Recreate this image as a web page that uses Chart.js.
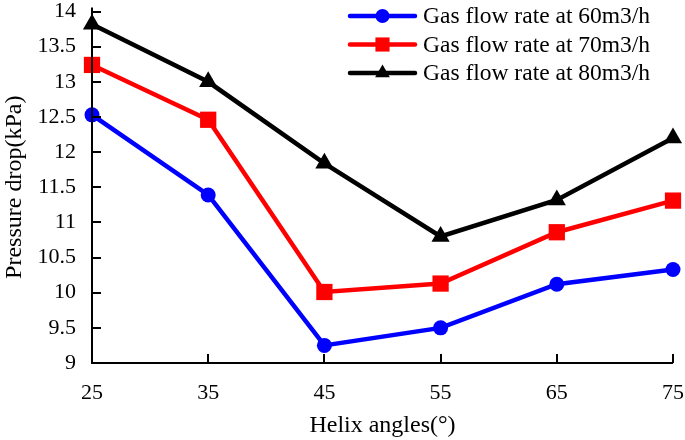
<!DOCTYPE html>
<html>
<head>
<meta charset="utf-8">
<script src="https://cdn.jsdelivr.net/npm/chart.js@4/dist/chart.umd.min.js"></script>
<style>
html,body{margin:0;padding:0;background:#fff;}
#wrap{width:685px;height:440px;position:relative;}
</style>
</head>
<body>
<div id="wrap"><canvas id="c" width="685" height="440"></canvas></div>
<script>
const categories = [25, 35, 45, 55, 65, 75];
const flow60 = [12.53, 11.39, 9.25, 9.50, 10.12, 10.33];
const flow70 = [13.24, 12.46, 10.01, 10.13, 10.86, 11.31];
const flow80 = [13.82, 13.00, 11.84, 10.80, 11.32, 12.20];
const seriesLabels = ['Gas flow rate at 60m3/h', 'Gas flow rate at 70m3/h', 'Gas flow rate at 80m3/h'];
const yMin = 9, yMax = 14, yStep = 0.5;
const xTitle = 'Helix angles(°)';
const yTitle = 'Pressure drop(kPa)';

const FONT = '"Liberation Serif", "Times New Roman", serif';

const innerTicks = {
  id: 'innerTicks',
  afterDraw(chart) {
    const ctx = chart.ctx;
    const xs = chart.scales.x, ys = chart.scales.y;
    const a = chart.chartArea;
    ctx.save();
    ctx.strokeStyle = '#000';
    ctx.lineWidth = 2;
    ctx.beginPath();
    ctx.moveTo(a.left, a.top - 4);
    ctx.lineTo(a.left, a.bottom);
    ctx.lineTo(a.right, a.bottom);
    ctx.stroke();
    ys.ticks.forEach((t, i) => {
      const y = Math.round(ys.getPixelForTick(i));
      ctx.beginPath();
      ctx.moveTo(a.left, y);
      ctx.lineTo(a.left + 9, y);
      ctx.stroke();
    });
    xs.ticks.forEach((t, i) => {
      const x = Math.round(xs.getPixelForTick(i));
      ctx.beginPath();
      ctx.moveTo(x, a.bottom);
      ctx.lineTo(x, a.bottom - 9);
      ctx.stroke();
    });
    ctx.restore();
  }
};

const legendRadius = { circle: 7, rect: 10, triangle: 8.5 };

const customLegend = {
  id: 'customLegend',
  afterDraw(chart) {
    const ctx = chart.ctx;
    ctx.save();
    chart.data.datasets.forEach((ds, i) => {
      const y = 16 + i * 28.5;
      const x0 = 350, x1 = 415;
      ctx.strokeStyle = ds.borderColor;
      ctx.lineWidth = 4.5;
      ctx.lineCap = 'round';
      ctx.beginPath();
      ctx.moveTo(x0, y);
      ctx.lineTo(x1, y);
      ctx.stroke();
      ctx.fillStyle = ds.borderColor;
      ctx.strokeStyle = ds.borderColor;
      Chart.helpers.drawPoint(ctx, {
        pointStyle: ds.pointStyle,
        radius: legendRadius[ds.pointStyle],
        rotation: 0,
        borderWidth: 0
      }, (x0 + x1) / 2, y);
      ctx.fillStyle = '#000';
      ctx.font = '23.5px ' + FONT;
      ctx.textBaseline = 'middle';
      ctx.textAlign = 'left';
      ctx.fillText(ds.label, 423, y + 1);
    });
    ctx.restore();
  }
};

function mkDs(label, data, color, style, r) {
  return {
    label, data,
    borderColor: color,
    backgroundColor: color,
    pointBackgroundColor: color,
    pointBorderColor: color,
    pointBorderWidth: 0,
    borderWidth: 4.5,
    pointStyle: style,
    pointRadius: r,
    pointHoverRadius: r,
    tension: 0,
    clip: false
  };
}

Chart.defaults.font.family = FONT;

new Chart(document.getElementById('c'), {
  type: 'line',
  data: {
    labels: categories,
    datasets: [
      mkDs(seriesLabels[0], flow60, '#0000FF', 'circle', 7.5),
      mkDs(seriesLabels[1], flow70, '#FF0000', 'rect', 11.5),
      mkDs(seriesLabels[2], flow80, '#000000', 'triangle', 10.5)
    ]
  },
  options: {
    responsive: false,
    animation: false,
    layout: { padding: { top: 8, right: 12, left: 0, bottom: 0 } },
    plugins: { legend: { display: false }, tooltip: { enabled: false } },
    scales: {
      x: {
        type: 'category',
        offset: false,
        grid: { display: false, drawTicks: false },
        border: { display: false },
        ticks: { color: '#000', font: { size: 22, family: FONT }, padding: 17, maxRotation: 0, autoSkip: false },
        title: { display: true, text: xTitle, color: '#000', font: { size: 24, family: FONT }, padding: { top: 7, bottom: 0 } },
        afterFit(s) { s.height = 77; s.paddingLeft = 0; s.paddingRight = 0; }
      },
      y: {
        min: yMin, max: yMax,
        grid: { display: false, drawTicks: false },
        border: { display: false },
        ticks: { stepSize: yStep, color: '#000', font: { size: 22, family: FONT }, padding: 16,
          callback: v => String(v) },
        title: { display: true, text: yTitle, color: '#000', font: { size: 24, family: FONT }, padding: { top: 0, bottom: 2 } },
        afterFit(s) { s.width = 92; s.paddingTop = 0; s.paddingBottom = 0; }
      }
    }
  },
  plugins: [innerTicks, customLegend]
});
</script>
</body>
</html>
